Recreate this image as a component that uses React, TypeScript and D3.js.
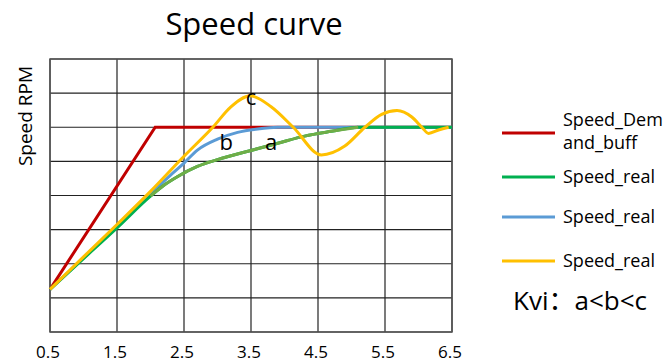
import React from "react";
import * as d3 from "d3";

const xTicks = [0.5, 1.5, 2.5, 3.5, 4.5, 5.5, 6.5];
const yGrid = [0, 1, 2, 3, 4, 5, 6, 7, 8];

const demandX = [0.5, 2.07, 6.5];
const demandY = [1.25, 6, 6];

const aX = [0.5, 1.0, 1.5, 2.0, 2.2, 2.4, 2.7, 3.0, 3.5, 3.9, 4.3, 4.7, 5.1, 5.8, 6.5];
const aY = [1.25, 2.15, 3.05, 3.98, 4.3, 4.55, 4.85, 5.05, 5.32, 5.53, 5.74, 5.88, 6.0, 6.0, 6.0];
const aOliveFrom = 2.0;
const aOliveTo = 5.1;

const bX = [0.5, 1.0, 1.5, 2.0, 2.3, 2.5, 2.7, 3.0, 3.3, 3.6, 3.9, 5.0, 6.5];
const bY = [1.25, 2.17, 3.08, 4.05, 4.6, 4.95, 5.33, 5.65, 5.85, 5.95, 6.0, 6.0, 6.0];

const cX = [0.5, 1.0, 1.5, 2.0, 2.5, 2.93, 3.2, 3.49, 3.8, 4.13, 4.55, 4.9, 5.2, 5.45, 5.68, 5.9, 6.05, 6.15, 6.3, 6.45];
const cY = [1.25, 2.2, 3.15, 4.12, 5.15, 6.0, 6.6, 6.92, 6.6, 6.0, 5.19, 5.45, 6.0, 6.38, 6.49, 6.3, 6.0, 5.82, 5.92, 6.0];

const legendLabels = [["Speed_Dem", "and_buff"], ["Speed_real"], ["Speed_real"], ["Speed_real"]];
const legendColors = ["#C00000", "#00B050", "#5B9BD5", "#FFC000"];
const olive = "#70AD47";

const W = 672, H = 364;
const L = 50, R = 452, T = 59, B = 332;
const font = "'Open Sans', 'Noto Sans CJK SC', sans-serif";

export default function App() {
  const x = d3.scaleLinear().domain([0.5, 6.5]).range([L, R]);
  const y = d3.scaleLinear().domain([0, 8]).range([B, T]);
  const pts = (xs: number[], ys: number[]) => xs.map((v, i) => [v, ys[i]] as [number, number]);
  const smooth = d3.line<[number, number]>().x(d => x(d[0])).y(d => y(d[1])).curve(d3.curveMonotoneX);
  const straight = d3.line<[number, number]>().x(d => x(d[0])).y(d => y(d[1]));

  const aPts = pts(aX, aY);
  const aOlive = aPts.filter(p => p[0] >= aOliveFrom && p[0] <= aOliveTo);

  const legendY = [133, 177, 217, 261];
  const lw = 3;

  return (
    <svg width={W} height={H} style={{ position: "absolute", left: 0, top: 0, background: "#fff" }} fontFamily={font}>
      <text x={254} y={35} textAnchor="middle" fontSize={31} fill="#000">Speed curve</text>
      <text transform={`translate(32,116) rotate(-90)`} textAnchor="middle" fontSize={19} fill="#000">Speed RPM</text>

      {yGrid.map(v => (
        <line key={"h" + v} x1={L} x2={R} y1={y(v)} y2={y(v)} stroke="#222" strokeWidth={1.2} />
      ))}
      {xTicks.map(v => (
        <line key={"v" + v} x1={x(v)} x2={x(v)} y1={T} y2={B} stroke="#222" strokeWidth={1.2} />
      ))}
      <rect x={L} y={T} width={R - L} height={B - T} fill="none" stroke="#555" strokeWidth={1.5} />

      {xTicks.map(v => (
        <text key={"t" + v} x={x(v) - 2} y={358} textAnchor="middle" fontSize={17} fill="#000">{v.toFixed(1)}</text>
      ))}

      <path d={straight(pts(demandX, demandY)) || ""} fill="none" stroke={legendColors[0]} strokeWidth={lw} />
      <path d={smooth(pts(bX, bY)) || ""} fill="none" stroke={legendColors[2]} strokeWidth={lw} />
      <path d={smooth(aPts) || ""} fill="none" stroke={legendColors[1]} strokeWidth={lw} />
      <path d={smooth(aOlive) || ""} fill="none" stroke={olive} strokeWidth={lw} />
      <path d={smooth(pts(cX, cY)) || ""} fill="none" stroke={legendColors[3]} strokeWidth={lw} />

      <text x={x(3.5)} y={105} textAnchor="middle" fontSize={22} fill="#000">c</text>
      <text x={x(3.13)} y={150} textAnchor="middle" fontSize={22} fill="#000">b</text>
      <text x={x(3.8)} y={150} textAnchor="middle" fontSize={22} fill="#000">a</text>

      {legendLabels.map((lab, i) => (
        <g key={"l" + i}>
          <line x1={502} x2={555} y1={legendY[i]} y2={legendY[i]} stroke={legendColors[i]} strokeWidth={3} />
          {lab.map((s, j) => (
            <text key={j} x={563} y={(i === 0 ? 126 : legendY[i] + 6) + j * 23} fontSize={18} fill="#000">{s}</text>
          ))}
        </g>
      ))}
      <text x={513} y={310} fontSize={26} fill="#000">Kvi：a&lt;b&lt;c</text>
    </svg>
  );
}
